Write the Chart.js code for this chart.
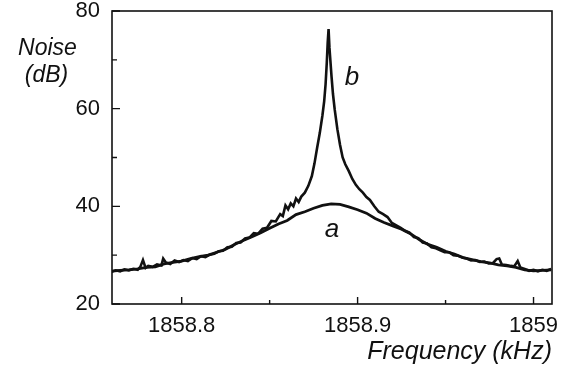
<!DOCTYPE html>
<html>
<head>
<meta charset="utf-8">
<script src="https://cdn.jsdelivr.net/npm/chart.js@4"></script>
<style>
  html, body { margin: 0; padding: 0; background: #fff; }
  canvas { display: block; }
</style>
</head>
<body>
<canvas id="noise-chart" width="573" height="367"></canvas>
<script>
// trace a: broad resonance (kHz, dB)
const freqA = [
  1858.760, 1858.765, 1858.770, 1858.775, 1858.780, 1858.785, 1858.790, 1858.795,
  1858.800, 1858.805, 1858.810, 1858.815, 1858.820, 1858.825, 1858.830, 1858.835,
  1858.840, 1858.845, 1858.850, 1858.855, 1858.860, 1858.865, 1858.870, 1858.875,
  1858.880, 1858.885, 1858.890, 1858.895, 1858.900, 1858.905, 1858.910, 1858.915,
  1858.920, 1858.925, 1858.930, 1858.935, 1858.940, 1858.945, 1858.950, 1858.955,
  1858.960, 1858.965, 1858.970, 1858.975, 1858.980, 1858.985, 1858.990, 1858.995,
  1859.000, 1859.005, 1859.010
];
const noiseA = [
  26.7, 26.9, 27.0, 27.2, 27.5, 27.6, 28.2, 28.5,
  28.8, 29.3, 29.7, 30.0, 30.6, 31.2, 32.2, 33.0,
  33.8, 34.6, 35.5, 36.4, 37.1, 38.3, 38.9, 39.6,
  40.2, 40.5, 40.4, 39.9, 39.3, 38.6, 37.5, 36.7,
  36.0, 35.3, 34.4, 33.2, 32.2, 31.6, 30.8, 30.2,
  29.5, 29.1, 28.7, 28.4, 28.0, 27.8, 27.5, 27.0,
  26.8, 26.9, 27.0
];

// trace b: same background with the sharp peak
const freqB = [
  1858.7600, 1858.7625, 1858.7650, 1858.7675, 1858.7700, 1858.7725, 1858.7750, 1858.7765,
  1858.7780, 1858.7795, 1858.7810, 1858.7835, 1858.7860, 1858.7885, 1858.7895, 1858.7910,
  1858.7935, 1858.7960, 1858.7985, 1858.8010, 1858.8035, 1858.8060, 1858.8085, 1858.8110,
  1858.8135, 1858.8160, 1858.8185, 1858.8210, 1858.8235, 1858.8260, 1858.8285, 1858.8310,
  1858.8335, 1858.8360, 1858.8385, 1858.8410, 1858.8435, 1858.8460, 1858.8485, 1858.8510,
  1858.8535, 1858.8560, 1858.8575, 1858.8590, 1858.8605, 1858.8620, 1858.8635, 1858.8650,
  1858.8665, 1858.8680, 1858.8700, 1858.8720, 1858.8740, 1858.8755, 1858.8770, 1858.8785,
  1858.8800, 1858.8810, 1858.8818, 1858.8825, 1858.8830, 1858.8835, 1858.8840, 1858.8845,
  1858.8852, 1858.8860, 1858.8870, 1858.8885, 1858.8900, 1858.8915, 1858.8930, 1858.8950,
  1858.8970, 1858.8990, 1858.9010, 1858.9030, 1858.9050, 1858.9070, 1858.9095, 1858.9120,
  1858.9145, 1858.9170, 1858.9195, 1858.9220, 1858.9245, 1858.9270, 1858.9295, 1858.9320,
  1858.9345, 1858.9370, 1858.9395, 1858.9420, 1858.9445, 1858.9470, 1858.9495, 1858.9520,
  1858.9545, 1858.9570, 1858.9595, 1858.9620, 1858.9645, 1858.9670, 1858.9695, 1858.9720,
  1858.9745, 1858.9770, 1858.9790, 1858.9805, 1858.9820, 1858.9845, 1858.9870, 1858.9890,
  1858.9910, 1858.9925, 1858.9950, 1858.9975, 1859.0000, 1859.0025, 1859.0050, 1859.0075,
  1859.0100
];
const noiseB = [
  26.6, 26.9, 26.7, 27.1, 26.9, 27.2, 27.0, 27.6,
  29.0, 27.4, 27.8, 27.6, 28.1, 27.9, 29.3, 28.5,
  28.2, 28.9, 28.6, 29.0, 28.8, 29.4, 29.2, 29.8,
  29.6, 30.1, 30.3, 30.8, 30.9, 31.6, 31.7, 32.5,
  32.6, 33.4, 33.6, 34.5, 34.4, 35.4, 35.6, 37.0,
  36.9, 38.4, 38.0, 40.2, 39.4, 40.6, 40.0, 41.6,
  40.9, 42.0, 42.8, 44.2, 46.2, 48.8, 52.0, 55.0,
  58.6, 61.5, 65.0, 69.5, 73.5, 76.3, 72.5, 70.0,
  66.5, 63.0, 59.8, 55.8, 52.6, 50.0, 48.6, 47.2,
  45.6, 44.4, 43.5, 42.8, 41.9, 41.3, 40.0, 38.9,
  38.4, 37.8, 36.6, 36.1, 35.6, 35.0, 34.6, 33.7,
  33.5, 32.6, 32.4, 31.6, 31.4, 31.0, 30.6, 30.6,
  30.0, 29.9, 29.5, 29.3, 28.9, 29.0, 28.6, 28.7,
  28.3, 28.4, 29.2, 29.3, 28.1, 28.0, 27.8, 27.7,
  28.8, 27.5, 27.2, 26.8, 27.0, 26.7, 27.0, 26.8,
  27.2
];

const xTickValues = [1858.8, 1858.9, 1859];
const xMinorTicks = [1858.85, 1858.95];
const yTickValues = [20, 40, 60, 80];
const yMinorTicks = [30, 50, 70];

const ink = '#111';
const fontFamily = '"Liberation Sans", Arial, sans-serif';

function toPoints(xs, ys) {
  return xs.map((x, i) => ({ x: x, y: ys[i] }));
}

// frame, inward ticks and the free text labels
const decorations = {
  id: 'decorations',
  afterDraw(chart) {
    const ctx = chart.ctx;
    const area = chart.chartArea;
    const xs = chart.scales.x;
    const ys = chart.scales.y;
    ctx.save();
    ctx.strokeStyle = ink;
    ctx.lineWidth = 1.6;
    ctx.strokeRect(area.left, area.top, area.right - area.left, area.bottom - area.top);

    ctx.lineWidth = 1.4;
    ctx.beginPath();
    xTickValues.forEach(v => {
      const px = xs.getPixelForValue(v);
      ctx.moveTo(px, area.bottom); ctx.lineTo(px, area.bottom - 7);
    });
    xMinorTicks.forEach(v => {
      const px = xs.getPixelForValue(v);
      ctx.moveTo(px, area.bottom); ctx.lineTo(px, area.bottom - 4);
    });
    yTickValues.forEach(v => {
      const py = ys.getPixelForValue(v);
      ctx.moveTo(area.left, py); ctx.lineTo(area.left + 8, py);
    });
    yMinorTicks.forEach(v => {
      const py = ys.getPixelForValue(v);
      ctx.moveTo(area.left, py); ctx.lineTo(area.left + 5, py);
    });
    ctx.stroke();

    ctx.fillStyle = ink;
    ctx.textAlign = 'center';
    ctx.textBaseline = 'alphabetic';
    ctx.font = 'italic 23px ' + fontFamily;
    ctx.fillText('Noise', 47.5, 55);
    ctx.fillText('(dB)', 46.5, 82);
    ctx.font = 'italic 26px ' + fontFamily;
    ctx.fillText('b', 352, 85);
    ctx.fillText('a', 332, 237);
    ctx.restore();
  }
};

const config = {
  type: 'line',
  data: {
    datasets: [{
      label: 'a',
      data: toPoints(freqA, noiseA),
      borderColor: ink,
      borderWidth: 2.8,
      pointRadius: 0,
      tension: 0
    }, {
      label: 'b',
      data: toPoints(freqB, noiseB),
      borderColor: ink,
      borderWidth: 2.6,
      pointRadius: 0,
      tension: 0
    }]
  },
  options: {
    responsive: false,
    animation: false,
    layout: {
      padding: { top: 11, right: 21, left: 0, bottom: 0 }
    },
    plugins: {
      legend: { display: false },
      tooltip: { enabled: false }
    },
    scales: {
      x: {
        type: 'linear',
        min: 1858.7604,
        max: 1859.0105,
        afterFit(scale) {
          scale.height = 63;
          scale.paddingLeft = 0;
          scale.paddingRight = 0;
        },
        afterBuildTicks(scale) { scale.ticks = xTickValues.map(v => ({ value: v })); },
        grid: { display: false, drawTicks: false },
        border: { display: false },
        ticks: {
          color: ink,
          padding: 9,
          maxRotation: 0,
          autoSkip: false,
          font: { family: fontFamily, size: 22 },
          callback: v => String(Number(v.toFixed(1)))
        },
        title: {
          display: true,
          text: 'Frequency (kHz)',
          align: 'end',
          color: ink,
          padding: { top: 0, bottom: 0 },
          font: { family: fontFamily, size: 25, style: 'italic' }
        }
      },
      y: {
        min: 20,
        max: 80,
        afterFit(scale) {
          scale.width = 112;
          scale.paddingTop = 0;
          scale.paddingBottom = 0;
        },
        afterBuildTicks(scale) { scale.ticks = yTickValues.map(v => ({ value: v })); },
        grid: { display: false, drawTicks: false },
        border: { display: false },
        ticks: {
          color: ink,
          padding: 12,
          font: { family: fontFamily, size: 22 }
        }
      }
    }
  },
  plugins: [decorations]
};

new Chart(document.getElementById('noise-chart'), config);
</script>
</body>
</html>
